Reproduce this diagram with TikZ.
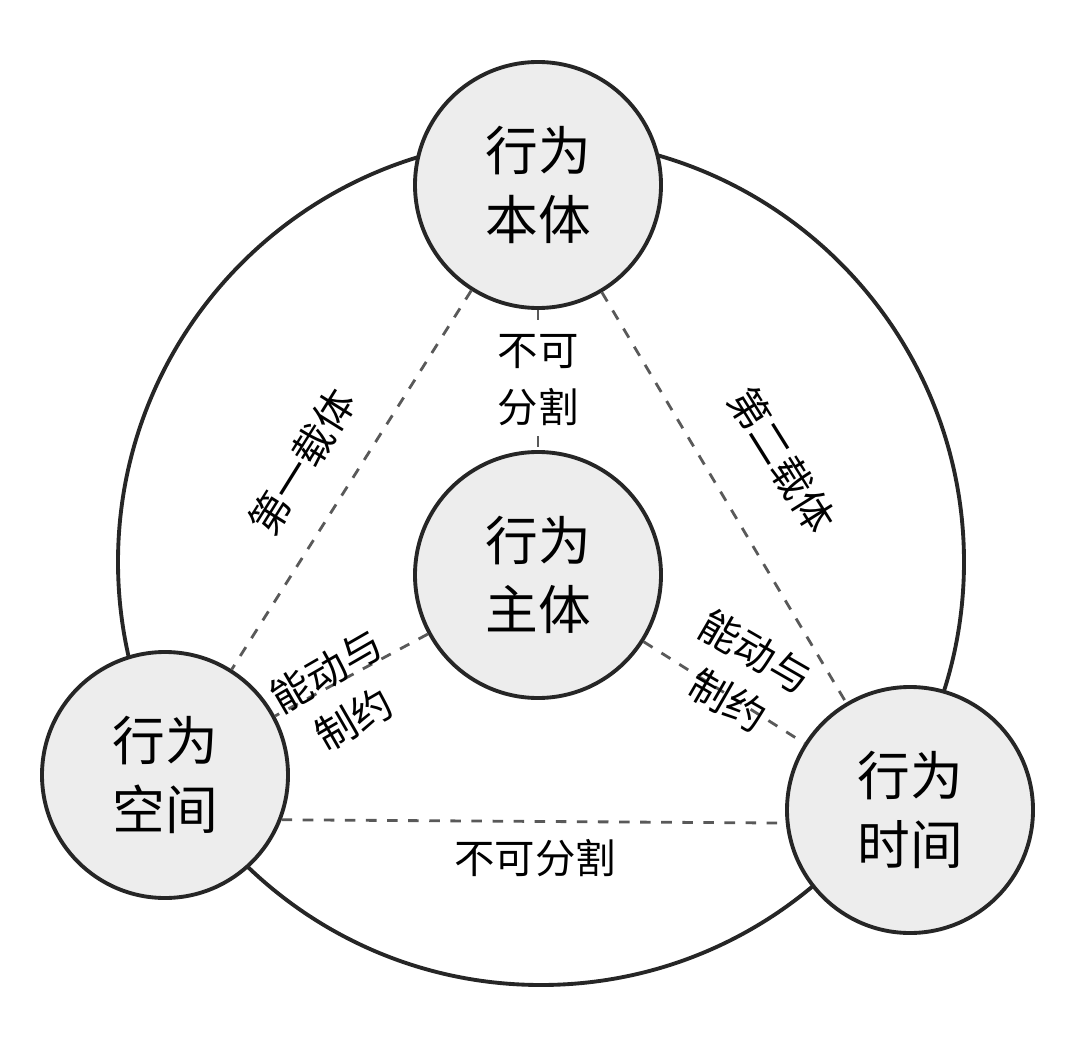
\documentclass[tikz,border=0pt]{standalone}
\usepackage{fontspec}
\setmainfont{Noto Sans CJK SC}
\usetikzlibrary{positioning}

\begin{document}
\begin{tikzpicture}[
    ring/.style={circle, draw=black!85, line width=1.1pt, fill=black!7, minimum size=2.46cm, inner sep=0pt, align=center, font=\fontsize{15}{19.5}\selectfont},
    link/.style={dashed, draw=black!65, line width=0.8pt},
    tag/.style={font=\fontsize{11.5}{16}\selectfont, align=center}
]
\useasboundingbox (0,0) rectangle (10.8,-10.37);

% Outer ring
\draw[line width=1.1pt, black!85] (5.41,-5.62) circle (4.23);

% Four circles
\node[ring] (body) at (5.38,-1.85) {行为\\本体};
\node[ring] (subject) at (5.38,-5.75) {行为\\主体};
\node[ring] (space) at (1.65,-7.75) {行为\\空间};
\node[ring] (time) at (9.10,-8.10) {行为\\时间};

% Dashed links
\draw[link] (body) -- (space);
\draw[link] (body) -- (time);
\draw[link] (body) -- (subject);
\draw[link] (subject) -- (space);
\draw[link] (subject) -- (time);
\draw[link] (space.-21) -- (time.186);

% Labels
\node[tag, rotate=58] (first) at (3.02,-4.62) {第一载体};
\node[tag, rotate=-58] (second) at (7.82,-4.60) {第二载体};
\node[tag, fill=white, inner sep=1pt] (cut1) at (5.38,-3.80) {不可\\分割};
\node[tag, rotate=30] (act1) at (3.40,-6.95) {能动与\\制约};
\node[tag, rotate=-30] (act2) at (7.42,-6.76) {能动与\\制约};
\node[tag] (cut2) at (5.35,-8.58) {不可分割};

\end{tikzpicture}
\end{document}
